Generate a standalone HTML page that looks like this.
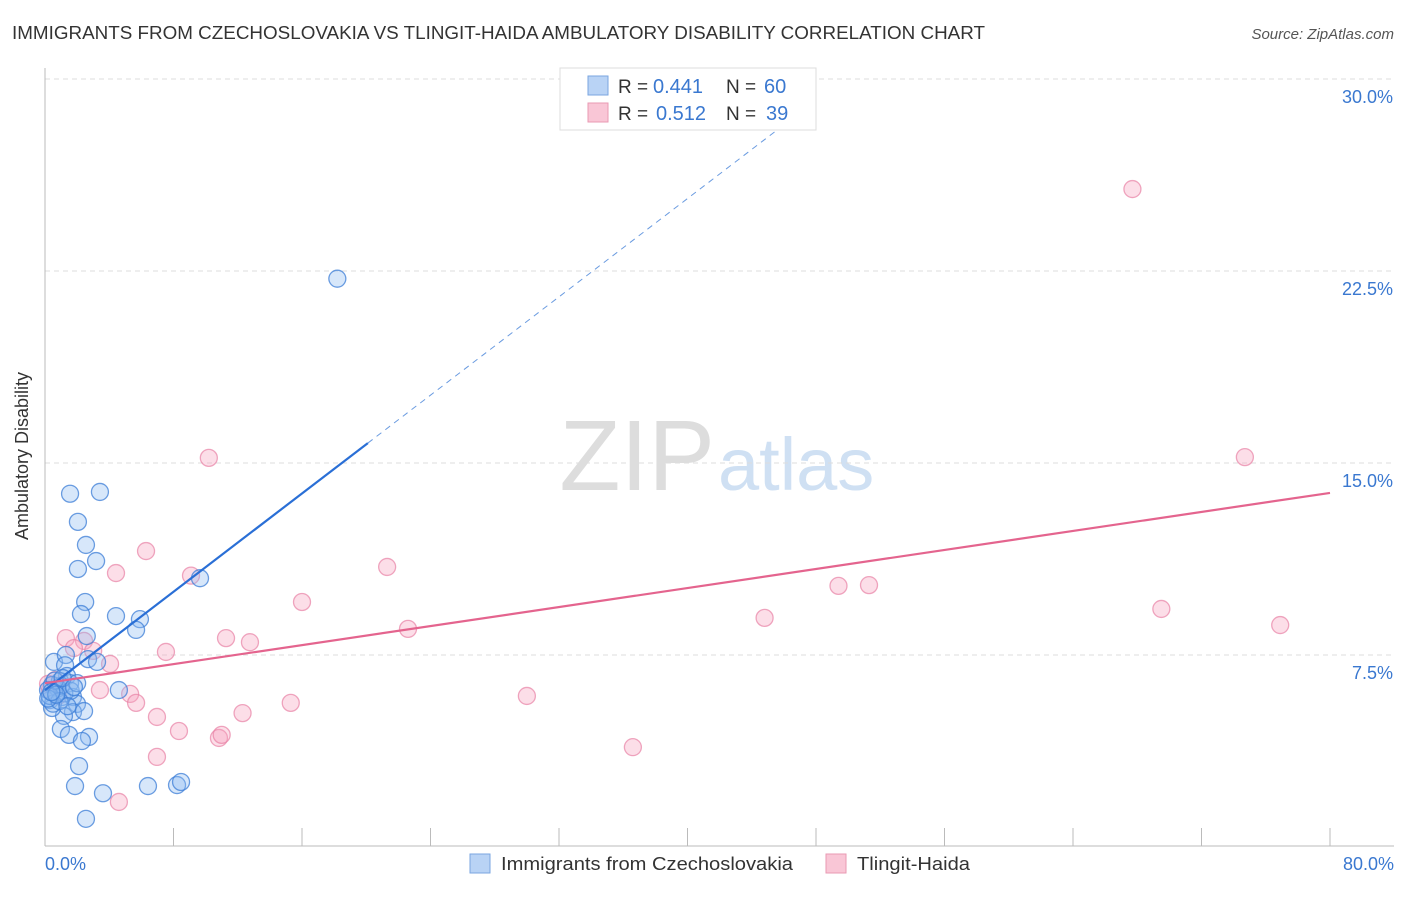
<!DOCTYPE html>
<html><head><meta charset="utf-8"><style>
body{margin:0;background:#fff;font-family:"Liberation Sans",sans-serif;}
svg text{font-family:"Liberation Sans",sans-serif;}
</style></head><body>
<svg width="1406" height="892">
<text x="12" y="39" font-size="18" fill="#333" textLength="973" lengthAdjust="spacingAndGlyphs">IMMIGRANTS FROM CZECHOSLOVAKIA VS TLINGIT-HAIDA AMBULATORY DISABILITY CORRELATION CHART</text>
<text x="1394" y="39" font-size="15" fill="#555" font-style="italic" text-anchor="end">Source: ZipAtlas.com</text>
<text x="715" y="490" font-size="100" fill="#ddd" text-anchor="end" font-family="Liberation Serif">ZIP</text>
<text x="718" y="490" font-size="74" fill="#cfe0f3">atlas</text>
<g id="grid"></g>
<line x1="45" y1="68" x2="45" y2="846" stroke="#bbb"/>
<line x1="45" y1="846" x2="1394" y2="846" stroke="#bbb"/>
<g id="xt"></g>
<text x="28" y="456" font-size="18" fill="#333" text-anchor="middle" transform="rotate(-90 28 456)">Ambulatory Disability</text>
<text x="45" y="870" font-size="18" fill="#3a78d0">0.0%</text>
<text x="1394" y="870" font-size="18" fill="#3a78d0" text-anchor="end">80.0%</text>
<g id="marks"></g>
<g>
<rect x="560" y="68" width="256" height="62" fill="#fff" stroke="#ddd"/>
<rect x="588" y="76" width="20" height="19" fill="#b9d3f5" stroke="#7aa6e0"/>
<rect x="588" y="103" width="20" height="19" fill="#f9c6d6" stroke="#e99ab3"/>
<text x="618" y="93" font-size="19" fill="#333">R =</text><text x="653" y="93" font-size="20" fill="#3a78d0">0.441</text>
<text x="726" y="93" font-size="19" fill="#333">N =</text><text x="764" y="93" font-size="20" fill="#3a78d0">60</text>
<text x="618" y="120" font-size="19" fill="#333">R =</text><text x="656" y="120" font-size="20" fill="#3a78d0">0.512</text>
<text x="726" y="120" font-size="19" fill="#333">N =</text><text x="766" y="120" font-size="20" fill="#3a78d0">39</text>
</g>
<g>
<rect x="470" y="854" width="20" height="19" fill="#b9d3f5" stroke="#7aa6e0"/>
<text x="501" y="870" font-size="18" fill="#333" textLength="292" lengthAdjust="spacingAndGlyphs">Immigrants from Czechoslovakia</text>
<rect x="826" y="854" width="20" height="19" fill="#f9c6d6" stroke="#e99ab3"/>
<text x="857" y="870" font-size="18" fill="#333" textLength="113" lengthAdjust="spacingAndGlyphs">Tlingit-Haida</text>
</g>
</svg>
<script>
const yTicks=[7.5,15,22.5,30];
const xTicks=[0,8,16,24,32,40,48,56,64,72,80];
const blueX=[18.2,1.56,3.42,2.05,2.55,3.18,2.05,9.65,2.5,2.24,4.42,5.91,5.67,2.6,0.56,1.3,1.25,2.68,3.24,1.37,0.93,1.56,0.44,0.68,1.06,1.74,0.31,4.6,1.99,1.74,2.43,1.18,0.99,1.49,2.74,2.3,2.12,1.87,3.61,6.41,8.22,8.47,2.55,0.44,0.19,0.8,1.2,0.5,1.0,1.6,0.3,0.9,2.0,0.6,1.4,0.2,1.1,0.7,1.8,0.4];
const blueY=[22.2,13.8,13.87,12.7,11.8,11.17,10.86,10.5,9.57,9.1,9.02,8.9,8.48,8.24,7.23,7.5,7.1,7.34,7.23,6.68,6.48,6.4,6.33,6.0,5.86,5.86,5.74,6.13,5.59,5.27,5.31,5.12,4.61,4.38,4.3,4.14,3.16,2.38,2.1,2.38,2.42,2.54,1.1,5.43,6.13,6.2,6.0,5.6,6.3,6.1,5.9,5.7,6.4,6.5,5.5,5.8,6.6,5.95,6.25,6.05];
const pinkX=[67.7,74.7,10.2,6.29,4.42,9.09,21.3,49.4,51.3,16.0,69.5,76.9,44.8,22.6,11.27,12.76,1.3,2.43,1.8,3.0,7.53,4.05,3.42,5.3,5.67,30.0,15.3,12.3,6.97,8.34,10.83,11.0,6.97,36.6,4.6,0.31,0.62,0.19,0.81];
const pinkY=[25.7,15.23,15.2,11.56,10.7,10.6,10.94,10.2,10.23,9.57,9.3,8.67,8.95,8.52,8.16,8.0,8.16,8.05,7.77,7.66,7.62,7.15,6.13,5.98,5.63,5.9,5.63,5.23,5.08,4.53,4.26,4.38,3.52,3.9,1.76,6.13,6.52,6.37,5.9];
const blueLine=[6.13,0.48], pinkLine=[6.4,0.0929];
const X=v=>45+v/80*1285, Y=v=>847-v/7.5*192;
const NS='http://www.w3.org/2000/svg';
function mk(t,a,p){const e=document.createElementNS(NS,t);for(const k in a)e.setAttribute(k,a[k]);p.appendChild(e);return e;}
const grid=document.getElementById('grid');
yTicks.forEach(t=>{
 const l=mk('line',{x1:45,x2:1394,y1:Y(t),y2:Y(t),stroke:'#ddd','stroke-dasharray':'5,4'},grid);
 
 
 const tx=mk('text',{x:1393,y:Y(t)+24,'font-size':18,fill:'#3a78d0','text-anchor':'end'},grid);
 tx.textContent=t.toFixed(1)+'%';
 
 
});
const xt=document.getElementById('xt');
xTicks.forEach(t=>{
 const l=mk('line',{x1:X(t),x2:X(t),y1:828,y2:846,stroke:'#bbb'},xt);
 
 
});
const m=document.getElementById('marks');
pinkX.forEach((x,i)=>{
 const c=mk('circle',{cx:X(x),cy:Y(pinkY[i]),r:8.5,fill:'rgba(245,160,188,0.35)',stroke:'rgba(232,130,165,0.7)','stroke-width':1.3},m);
 
 
});
blueX.forEach((x,i)=>{
 const c=mk('circle',{cx:X(x),cy:Y(blueY[i]),r:8.5,fill:'rgba(140,185,240,0.35)',stroke:'rgba(60,125,215,0.75)','stroke-width':1.3},m);
 
 
});
const bl=mk('line',{x1:X(0),y1:Y(blueLine[0]),x2:X(20.1),y2:Y(blueLine[0]+blueLine[1]*20.1),stroke:'#2a6fd6','stroke-width':2.2},m);


const xe=47;
const bd=mk('line',{x1:X(20.1),y1:Y(blueLine[0]+blueLine[1]*20.1),x2:X(xe),y2:Y(blueLine[0]+blueLine[1]*xe),stroke:'#6a9be0','stroke-width':1,'stroke-dasharray':'6,5'},m);


const pl=mk('line',{x1:X(0),y1:Y(pinkLine[0]),x2:X(80),y2:Y(pinkLine[0]+pinkLine[1]*80),stroke:'#e4648e','stroke-width':2.2},m);


</script>
</body></html>
